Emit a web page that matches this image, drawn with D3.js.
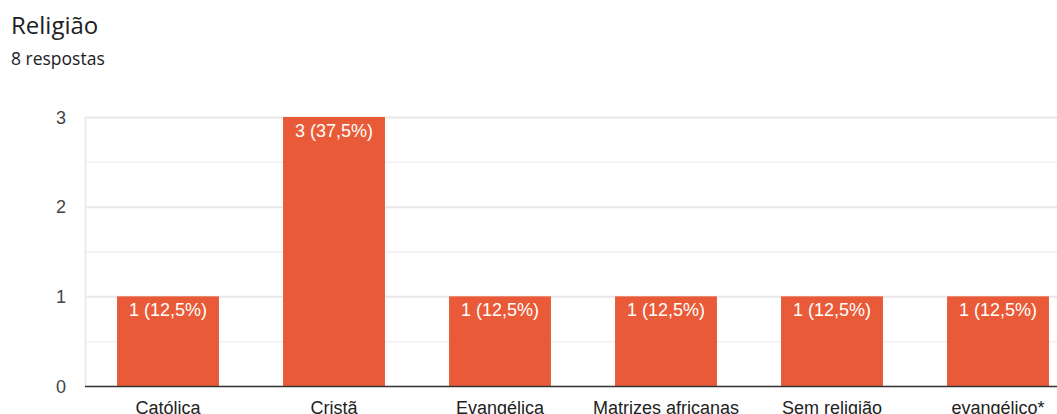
<!DOCTYPE html>
<html>
<head>
<meta charset="utf-8">
<script src="https://cdn.jsdelivr.net/npm/d3@7"></script>
<style>
  body { margin: 0; background: #fff; overflow: hidden; }
</style>
</head>
<body>
<div id="chart"></div>
<script>
const categories = ["Católica", "Cristã", "Evangélica", "Matrizes africanas", "Sem religião", "evangélico*"];
const counts = [1, 3, 1, 1, 1, 1];
const barLabels = ["1 (12,5%)", "3 (37,5%)", "1 (12,5%)", "1 (12,5%)", "1 (12,5%)", "1 (12,5%)"];
const yTicks = [0, 1, 2, 3];
const yGrid = [0.5, 1, 1.5, 2, 2.5, 3];

const width = 1057;
const height = 414;
const margin = { left: 85, top: 117, bottom: 28 };

const svg = d3.select("#chart")
  .append("svg")
  .attr("width", width)
  .attr("height", height);

svg.append("text")
  .attr("x", 11)
  .attr("y", 34)
  .attr("font-family", "Open Sans, sans-serif")
  .attr("font-size", 24)
  .attr("fill", "#202124")
  .text("Religião");

svg.append("text")
  .attr("x", 11)
  .attr("y", 65)
  .attr("font-family", "Open Sans, sans-serif")
  .attr("font-size", 17.5)
  .attr("fill", "#202124")
  .text("8 respostas");

const x = d3.scaleBand()
  .domain(categories)
  .range([margin.left, margin.left + 996])
  .paddingInner(0.386)
  .paddingOuter(0.193);

const y = d3.scaleLinear()
  .domain([0, 3])
  .range([386, margin.top]);

const g = svg.append("g");

// gridlines
g.selectAll(".grid")
  .data(yGrid)
  .enter()
  .append("line")
  .attr("x1", margin.left)
  .attr("x2", width)
  .attr("y1", d => y(d) + 0.5)
  .attr("y2", d => y(d) + 0.5)
  .attr("stroke", d => Number.isInteger(d) ? "#e8e8e8" : "#f1f1f1")
  .attr("stroke-width", d => Number.isInteger(d) ? 2 : 1.5);

g.append("line")
  .attr("x1", margin.left + 0.5)
  .attr("x2", margin.left + 0.5)
  .attr("y1", y(3))
  .attr("y2", y(0))
  .attr("stroke", "#e8e8e8")
  .attr("stroke-width", 1.5);

g.selectAll(".ytick")
  .data(yTicks)
  .enter()
  .append("text")
  .attr("x", 66)
  .attr("y", d => y(d) + 6.5)
  .attr("text-anchor", "end")
  .attr("font-family", "Liberation Sans, Arial, sans-serif")
  .attr("font-size", 18)
  .attr("fill", "#444")
  .text(d => d);

g.selectAll(".bar")
  .data(counts)
  .enter()
  .append("rect")
  .attr("x", (d, i) => x(categories[i]))
  .attr("y", d => y(d))
  .attr("width", x.bandwidth())
  .attr("height", d => y(0) - y(d))
  .attr("fill", "#e95b38");

g.selectAll(".blabel")
  .data(counts)
  .enter()
  .append("text")
  .attr("x", (d, i) => x(categories[i]) + x.bandwidth() / 2)
  .attr("y", d => y(d) + 20)
  .attr("text-anchor", "middle")
  .attr("font-family", "Liberation Sans, Arial, sans-serif")
  .attr("font-size", 18)
  .attr("fill", "#fff")
  .text((d, i) => barLabels[i]);

g.append("line")
  .attr("x1", margin.left)
  .attr("x2", width)
  .attr("y1", y(0) + 0.5)
  .attr("y2", y(0) + 0.5)
  .attr("stroke", "#333")
  .attr("stroke-width", 1.5);

g.selectAll(".xlabel")
  .data(categories)
  .enter()
  .append("text")
  .attr("x", d => x(d) + x.bandwidth() / 2)
  .attr("y", 413.5)
  .attr("text-anchor", "middle")
  .attr("font-family", "Liberation Sans, Arial, sans-serif")
  .attr("font-size", 18)
  .attr("fill", "#222")
  .text(d => d);
</script>
</body>
</html>
